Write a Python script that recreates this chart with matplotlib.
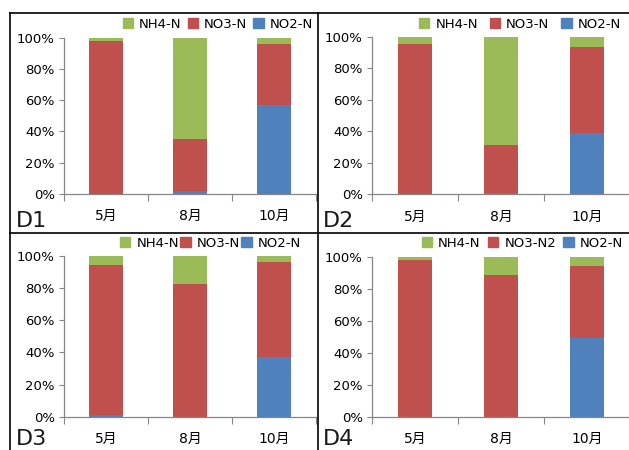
import matplotlib
matplotlib.use("Agg")
import matplotlib.pyplot as plt
from matplotlib.patches import Patch
from matplotlib.lines import Line2D
from matplotlib.ticker import FixedLocator, PercentFormatter

plt.rcParams["font.family"] = ["DejaVu Sans", "Noto Sans CJK SC"]

W, H = 629, 450

months = ["5月", "8月", "10月"]
sites = ["D1", "D2", "D3", "D4"]

# percentage share of each nitrogen form per site and month
no2 = {
    "D1": [0.0, 1.7, 57.0],
    "D2": [0.0, 1.0, 38.9],
    "D3": [1.2, 0.0, 37.3],
    "D4": [0.0, 0.0, 49.0],
}
no3 = {
    "D1": [98.1, 33.4, 38.7],
    "D2": [95.6, 30.1, 54.8],
    "D3": [93.4, 82.6, 58.8],
    "D4": [98.1, 88.5, 45.0],
}
nh4 = {
    "D1": [1.9, 64.9, 4.3],
    "D2": [4.4, 68.9, 6.3],
    "D3": [5.4, 17.4, 3.9],
    "D4": [1.9, 11.5, 6.0],
}
no3_label = {"D1": "NO3-N", "D2": "NO3-N", "D3": "NO3-N", "D4": "NO3-N2"}

C_NO2 = "#4F81BD"
C_NO3 = "#C0504D"
C_NH4 = "#9BBB59"
AXIS_GREY = "#868686"

# panel layout in pixels: axes box (left, top, right, bottom), legend (right, y),
# legend column spacing, site label position (left, bottom)
layout = {
    "D1": dict(box=(64, 37.7, 316, 194), leg=(313, 24.5), cs=0.45, lab=(16, 231)),
    "D2": dict(box=(372, 36.7, 630, 194.3), leg=(621, 24), cs=0.9, lab=(323, 231)),
    "D3": dict(box=(64, 256, 316, 416.7), leg=(301, 243.5), cs=0.1, lab=(16, 449)),
    "D4": dict(box=(372, 256.7, 630, 416.7), leg=(623, 243), cs=0.55, lab=(323, 449)),
}

fig = plt.figure(figsize=(W / 100, H / 100), dpi=100)
x = range(len(months))
width = 0.4

for site in sites:
    lay = layout[site]
    l, t, r, b = lay["box"]
    ax = fig.add_axes([l / W, 1 - b / H, (r - l) / W, (b - t) / H])

    bottom3 = no2[site]
    bottom4 = [a + c for a, c in zip(no2[site], no3[site])]
    ax.bar(x, no2[site], width, color=C_NO2)
    ax.bar(x, no3[site], width, bottom=bottom3, color=C_NO3)
    ax.bar(x, nh4[site], width, bottom=bottom4, color=C_NH4)

    ax.set_xlim(-0.5, 2.5)
    ax.set_ylim(0, 100)
    ax.set_yticks([0, 20, 40, 60, 80, 100])
    ax.yaxis.set_major_formatter(PercentFormatter(decimals=0))
    ax.set_xticks(list(x))
    ax.set_xticklabels(months)
    ax.xaxis.set_minor_locator(FixedLocator([-0.5, 0.5, 1.5, 2.5]))
    ax.tick_params(axis="x", which="major", length=0, pad=11, labelsize=10)
    ax.tick_params(axis="x", which="minor", length=5, width=0.8, color=AXIS_GREY)
    ax.tick_params(axis="y", length=3.6, width=0.8, color=AXIS_GREY, pad=3, labelsize=9.5)

    for side in ("top", "right"):
        ax.spines[side].set_visible(False)
    for side in ("left", "bottom"):
        ax.spines[side].set_color(AXIS_GREY)
        ax.spines[side].set_linewidth(0.9)

    handles = [Patch(color=C_NH4), Patch(color=C_NO3), Patch(color=C_NO2)]
    labels = ["NH4-N", no3_label[site], "NO2-N"]
    lx, ly = lay["leg"]
    ax.legend(handles, labels, ncol=3, loc="center right",
              bbox_to_anchor=(lx / W, 1 - ly / H), bbox_transform=fig.transFigure,
              frameon=False, fontsize=9.5, handlelength=0.8, handleheight=0.8,
              handletextpad=0.45, columnspacing=lay["cs"], borderpad=0, borderaxespad=0)

    tx, ty = lay["lab"]
    fig.text(tx / W, 1 - ty / H, site, fontsize=16, va="bottom", ha="left",
             color="#1a1a1a")

# panel frame lines
frame = [
    ((9.5, 9.5), (13, H)),
    ((9.5, W), (13, 13)),
    ((318, 318), (13, H)),
    ((9.5, W), (232.5, 232.5)),
]
for xs, ys in frame:
    fig.add_artist(Line2D([v / W for v in xs], [1 - v / H for v in ys],
                          color="black", linewidth=1.2, transform=fig.transFigure))

fig.savefig("out.png", dpi=100)
